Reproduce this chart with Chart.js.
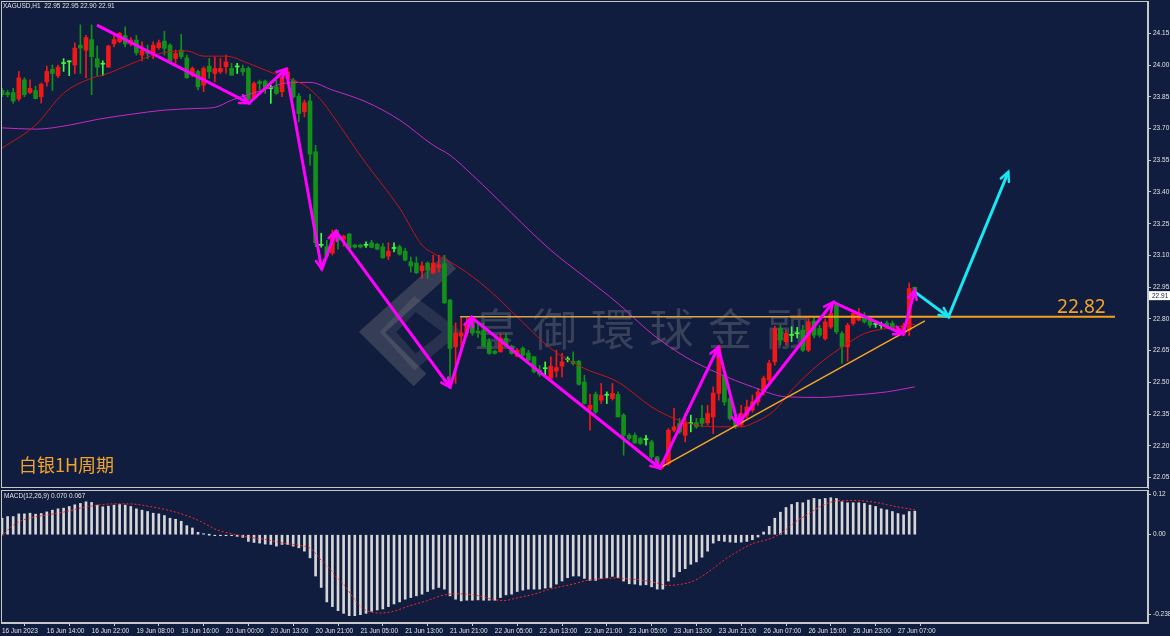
<!DOCTYPE html>
<html>
<head>
<meta charset="utf-8">
<title>XAGUSD H1</title>
<script src="https://cdn.jsdelivr.net/npm/chart.js@4.4.0/dist/chart.umd.min.js"></script>
<style>
    html, body { margin: 0; padding: 0; background: #111d3f; overflow: hidden; }
    #wrap { position: relative; width: 1170px; height: 636px; }
    #chart-price { position: absolute; left: 0; top: 0; }
    #chart-macd { position: absolute; left: 0; top: 489px; }
</style>
</head>
<body>
<div id="wrap">
    <canvas id="chart-price" width="1170" height="489"></canvas>
    <canvas id="chart-macd" width="1170" height="147"></canvas>
</div>
<script>
// XAGUSD H1 data
// -----------------------------------

var opens = [23.88,23.87,23.87,23.84,23.93,23.87,23.88,23.85,23.92,23.98,
    23.95,24.008,24.015,24.00,24.094,24.07,24.12,24.03,24.005,23.99,
    24.10,24.11,24.14,24.10,24.118,24.047,24.07,24.058,24.082,24.113,
    24.094,24.031,24.071,24.034,23.952,23.97,23.905,23.995,23.96,23.968,
    23.992,23.984,23.992,23.984,23.984,23.842,23.921,23.924,23.89,23.897,
    23.874,23.937,23.929,23.853,23.779,23.83,23.59,23.149,23.141,23.111,
    23.191,23.177,23.201,23.149,23.149,23.149,23.16,23.153,23.141,23.097,
    23.134,23.141,23.12,23.07,23.064,23.027,23.064,23.018,23.044,23.062,
    22.889,22.668,22.718,22.734,22.804,22.742,22.747,22.691,22.648,22.644,
    22.709,22.671,22.624,22.662,22.639,22.621,22.558,22.566,22.52,22.554,
    22.577,22.608,22.6,22.6,22.502,22.372,22.444,22.416,22.44,22.424,
    22.443,22.345,22.25,22.25,22.235,22.23,22.219,22.148,22.104,22.116,
    22.274,22.306,22.25,22.306,22.309,22.33,22.309,22.337,22.448,22.534,
    22.424,22.33,22.298,22.345,22.369,22.408,22.455,22.51,22.597,22.755,
    22.692,22.723,22.73,22.747,22.652,22.79,22.755,22.707,22.762,22.865,
    22.731,22.668,22.779,22.794,22.81,22.794,22.775,22.77,22.78,22.779,
    22.739,22.731,22.747,22.95];

var highs = [23.89,23.88,23.89,23.97,23.94,23.93,23.90,23.915,23.995,24.00,
    24.00,24.03,24.02,24.105,24.19,24.14,24.19,24.09,24.02,24.094,
    24.14,24.155,24.18,24.13,24.14,24.11,24.094,24.11,24.118,24.16,
    24.10,24.071,24.145,24.047,23.992,23.976,23.992,24.031,24.039,24.031,
    24.047,24.008,24.008,24.0,23.992,23.921,23.929,23.929,23.905,23.929,
    23.952,23.985,23.937,23.866,23.834,23.862,23.621,23.205,23.172,23.22,
    23.22,23.196,23.205,23.153,23.153,23.164,23.172,23.157,23.157,23.16,
    23.16,23.149,23.133,23.093,23.093,23.07,23.07,23.101,23.101,23.101,
    22.893,22.781,22.81,22.81,22.81,22.786,22.781,22.707,22.652,22.731,
    22.731,22.676,22.66,22.668,22.652,22.624,22.581,22.597,22.621,22.652,
    22.637,22.621,22.644,22.605,22.534,22.444,22.455,22.495,22.455,22.495,
    22.455,22.353,22.258,22.261,22.24,22.25,22.227,22.151,22.132,22.282,
    22.377,22.33,22.353,22.345,22.33,22.392,22.392,22.479,22.676,22.558,
    22.44,22.34,22.392,22.416,22.44,22.472,22.53,22.605,22.766,22.77,
    22.747,22.763,22.76,22.77,22.802,22.81,22.77,22.80,22.84,22.874,
    22.74,22.78,22.84,22.85,22.83,22.80,22.79,22.785,22.79,22.79,
    22.765,22.78,22.97,22.95];

var lows = [23.85,23.85,23.82,23.83,23.85,23.865,23.84,23.82,23.90,23.88,
    23.94,23.97,23.95,23.96,23.96,23.94,23.86,23.95,23.95,23.99,
    24.086,24.105,24.086,24.09,24.047,24.02,24.03,24.03,24.074,24.047,
    24.008,24.008,24.03,23.937,23.944,23.882,23.874,23.937,23.921,23.96,
    23.96,23.952,23.96,23.952,23.834,23.838,23.882,23.866,23.819,23.861,
    23.85,23.929,23.842,23.732,23.755,23.527,23.141,23.139,23.093,23.102,
    23.13,23.144,23.134,23.135,23.135,23.138,23.137,23.127,23.086,23.081,
    23.117,23.101,23.074,23.022,23.015,22.991,22.991,23.015,23.022,22.873,
    22.496,22.496,22.652,22.715,22.723,22.712,22.668,22.633,22.634,22.644,
    22.671,22.633,22.621,22.624,22.602,22.545,22.529,22.529,22.51,22.526,
    22.526,22.597,22.582,22.487,22.397,22.274,22.353,22.4,22.4,22.416,
    22.337,22.156,22.227,22.211,22.207,22.203,22.14,22.1,22.094,22.108,
    22.266,22.258,22.219,22.266,22.283,22.29,22.298,22.258,22.416,22.392,
    22.321,22.282,22.29,22.33,22.36,22.392,22.44,22.496,22.581,22.676,
    22.676,22.692,22.71,22.645,22.645,22.71,22.715,22.70,22.755,22.73,
    22.59,22.60,22.77,22.79,22.78,22.76,22.76,22.755,22.755,22.745,
    22.73,22.72,22.72,22.90];

var closes = [23.86,23.86,23.83,23.94,23.86,23.89,23.842,23.91,23.97,23.96,
    23.99,24.007,24.017,24.08,24.08,24.13,24.04,23.99,24.004,24.09,
    24.12,24.15,24.10,24.118,24.058,24.071,24.055,24.094,24.105,24.079,
    24.018,24.055,24.04,23.94,23.984,23.897,23.984,23.968,23.984,23.984,
    24.015,23.952,23.991,23.968,23.838,23.913,23.913,23.894,23.889,23.866,
    23.942,23.968,23.85,23.771,23.822,23.579,23.16,23.148,23.097,23.201,
    23.172,23.191,23.134,23.139,23.14,23.148,23.138,23.13,23.089,23.12,
    23.133,23.106,23.078,23.05,23.018,23.051,23.03,23.064,23.056,22.876,
    22.66,22.733,22.734,22.78,22.733,22.734,22.671,22.637,22.637,22.709,
    22.676,22.637,22.652,22.629,22.605,22.55,22.539,22.565,22.577,22.57,
    22.597,22.609,22.589,22.491,22.4,22.392,22.36,22.439,22.439,22.448,
    22.337,22.25,22.235,22.214,22.211,22.229,22.148,22.108,22.124,22.274,
    22.29,22.266,22.313,22.305,22.29,22.306,22.353,22.45,22.668,22.408,
    22.329,22.29,22.353,22.384,22.408,22.455,22.52,22.591,22.755,22.699,
    22.731,22.722,22.731,22.652,22.786,22.723,22.723,22.786,22.826,22.739,
    22.668,22.77,22.826,22.826,22.786,22.77,22.774,22.769,22.762,22.755,
    22.755,22.77,22.944,22.91];

// moving averages: [bar, price]
var fastMa = [[0,23.607],[6,23.716],[11,23.867],[16,23.938],[18,23.952],[24,24.016],[27,24.047],
    [30,24.063],[33,24.067],[36,24.042],[40,24.042],[44,24.008],[47,23.976],[51,23.937],[54,23.905],
    [57,23.834],[59,23.763],[65,23.535],[71,23.324],[75,23.149],[77,23.111],[80,23.07],[84,23.0],
    [87,22.936],[92,22.81],[98,22.66],[104,22.566],[110,22.502],[116,22.384],[120,22.33],[124,22.298],
    [128,22.29],[132,22.29],[134,22.306],[138,22.369],[141,22.463],[146,22.589],[151,22.684],
    [154,22.731],[158,22.755],[163,22.775]];

var slowMa = [[0,23.703],[6,23.697],[12,23.716],[17,23.743],[23,23.767],[29,23.787],[35,23.795],
    [38,23.8],[41,23.834],[47,23.885],[51,23.916],[55,23.918],[59,23.882],[65,23.826],[71,23.74],
    [77,23.621],[80,23.574],[84,23.48],[98,23.125],[104,22.999],[110,22.873],[116,22.731],
    [122,22.621],[128,22.542],[134,22.479],[140,22.432],[146,22.429],[152,22.44],[158,22.455],
    [163,22.479]];

var macdValues = [0.049,0.054,0.054,0.062,0.062,0.064,0.061,0.063,0.068,0.073,
    0.077,0.079,0.084,0.089,0.093,0.098,0.096,0.088,0.083,0.085,
    0.088,0.090,0.088,0.084,0.077,0.073,0.069,0.064,0.062,0.057,
    0.049,0.046,0.040,0.027,0.020,0.007,0.002,0.000,-0.002,-0.003,
    -0.001,-0.003,-0.005,-0.008,-0.020,-0.023,-0.025,-0.028,-0.029,-0.034,
    -0.029,-0.029,-0.034,-0.039,-0.049,-0.069,-0.123,-0.157,-0.200,-0.214,
    -0.226,-0.234,-0.241,-0.241,-0.238,-0.234,-0.228,-0.224,-0.221,-0.214,
    -0.206,-0.200,-0.192,-0.187,-0.182,-0.177,-0.169,-0.162,-0.157,-0.162,
    -0.182,-0.192,-0.197,-0.195,-0.195,-0.194,-0.195,-0.195,-0.195,-0.187,
    -0.179,-0.177,-0.169,-0.165,-0.162,-0.162,-0.162,-0.159,-0.157,-0.147,
    -0.138,-0.128,-0.123,-0.123,-0.130,-0.136,-0.136,-0.130,-0.128,-0.124,
    -0.128,-0.138,-0.146,-0.147,-0.150,-0.149,-0.155,-0.162,-0.162,-0.138,
    -0.126,-0.110,-0.101,-0.088,-0.081,-0.067,-0.049,-0.025,-0.018,-0.020,
    -0.022,-0.023,-0.022,-0.020,-0.015,-0.007,0.008,0.025,0.049,0.067,
    0.081,0.090,0.096,0.095,0.103,0.108,0.105,0.108,0.110,0.108,
    0.098,0.095,0.095,0.095,0.093,0.088,0.084,0.077,0.074,0.069,
    0.063,0.059,0.069,0.070];

var macdSignal = [[0,-0.005],[1.4,0.020],[3.2,0.040],[5.6,0.052],[8.6,0.060],[11.5,0.069],[14.5,0.081],
    [17.5,0.089],[20.5,0.092],[23.5,0.091],[26.4,0.084],[29.4,0.074],[32.4,0.060],[35.4,0.040],
    [38.3,0.015],[41.3,0.002],[44.3,-0.008],[47.3,-0.015],[50.2,-0.025],[53.2,-0.032],[55,-0.040],
    [56.2,-0.060],[57.4,-0.084],[58.6,-0.103],[59.8,-0.128],[61,-0.147],[62.7,-0.187],[63.9,-0.211],
    [65.1,-0.226],[67.5,-0.233],[69.9,-0.228],[72.9,-0.211],[75.8,-0.197],[78.8,-0.180],[81.8,-0.176],
    [84.9,-0.181],[87.8,-0.193],[89.6,-0.196],[92,-0.188],[95,-0.177],[97.4,-0.164],[99.7,-0.155],
    [102,-0.147],[104.5,-0.136],[106.9,-0.131],[109.9,-0.129],[111.6,-0.131],[114.6,-0.136],
    [117,-0.144],[118.8,-0.151],[120.6,-0.149],[123,-0.141],[124.7,-0.127],[127.1,-0.099],
    [129.5,-0.069],[131.9,-0.045],[134.3,-0.025],[136.6,-0.015],[138.1,-0.005],[139.6,0.010],
    [141.4,0.035],[143.8,0.060],[146.2,0.084],[148,0.097],[150.3,0.102],[153.3,0.101],[155.7,0.097],
    [158.1,0.089],[160.5,0.081],[163,0.074]];

var priceTicks = [22.05,22.20,22.35,22.50,22.65,22.80,22.95,23.10,23.25,23.40,23.55,23.70,23.85,24.00,24.15];
var macdTicks = [-0.238, 0, 0.12];
var macdTickLabels = ['-0.238', '0.00', '0.12'];
var timeTicks = [0,8,16,24,32,40,48,56,64,72,80,88,96,104,112,120,128,136,144,152,160];
var timeLabels = ['16 Jun 2023','16 Jun 14:00','16 Jun 22:00','19 Jun 08:00','19 Jun 16:00',
    '20 Jun 00:00','20 Jun 13:00','20 Jun 21:00','21 Jun 05:00','21 Jun 13:00','21 Jun 21:00',
    '22 Jun 05:00','22 Jun 13:00','22 Jun 21:00','23 Jun 05:00','23 Jun 13:00','23 Jun 21:00',
    '26 Jun 07:00','26 Jun 15:00','26 Jun 23:00','27 Jun 07:00'];

// drawn analysis: [bar, price]
var waveLine = [[16.96,24.189],[44.1,23.82],[50.7,23.981],[57.1,23.035],[59.6,23.215],[80.0,22.477],
    [83.8,22.808],[117.5,22.094],[127.9,22.666],[131.4,22.302],[148.4,22.879],[160.9,22.728],[163.0,22.936]];
var forecastLine = [[163.0,22.928],[169.0,22.81],[179.7,23.495]];
var levelPrice = 22.81;
var levelText = '22.82';
var levelFrom = [81.8, 140.7];
var levelTo = [140.7, 198.75];
var supportLine = [[117.8,22.101],[164.8,22.791]];
var lastPrice = 22.91;

// Chart JS
// -----------------------------------

(function(window, document, undefined) {
    'use strict';

    var BG = '#111d3f';
    var AXIS = '#c8c8c8';
    var TEXT = '#e2e2e2';
    var FONT = '"Liberation Sans", Arial, sans-serif';
    var UP = '#f21818';
    var DOWN = '#12901a';
    var DOJI = '#3cff3c';
    var X_MIN = -0.18;
    var X_MAX = X_MIN + 1147 / 5.6;

    function pts(list) {
        return list.map(function(p) { return { x: p[0], y: p[1] }; });
    }

    function candleColor(i) {
        var d = closes[i] - opens[i];
        if (Math.abs(d) < 0.003) return DOJI;
        return d > 0 ? UP : DOWN;
    }

    function arrowHead(ctx, a, b, len) {
        var ang = Math.atan2(b.y - a.y, b.x - a.x);
        ctx.beginPath();
        ctx.moveTo(b.x - len * Math.cos(ang - 0.45), b.y - len * Math.sin(ang - 0.45));
        ctx.lineTo(b.x, b.y);
        ctx.lineTo(b.x - len * Math.cos(ang + 0.45), b.y - len * Math.sin(ang + 0.45));
        ctx.stroke();
    }

    function panelBorder(chart) {
        var a = chart.chartArea, ctx = chart.ctx;
        ctx.save();
        ctx.strokeStyle = AXIS;
        ctx.lineWidth = 1;
        ctx.strokeRect(a.left + 0.5, a.top + 0.5, a.right - a.left - 1, a.bottom - a.top - 1);
        ctx.restore();
    }

    var pricePlugin = {
        id: 'priceDecor',
        beforeDatasetsDraw: function(chart) {
            var ctx = chart.ctx;
            ctx.save();
            // watermark logo
            ctx.lineJoin = 'miter';
            ctx.strokeStyle = 'rgba(150,150,150,0.28)';
            ctx.lineWidth = 18;
            ctx.beginPath();
            ctx.moveTo(450, 262);
            ctx.lineTo(372, 332);
            ctx.lineTo(420, 380);
            ctx.stroke();
            ctx.strokeStyle = 'rgba(150,150,150,0.18)';
            ctx.lineWidth = 12;
            ctx.beginPath();
            ctx.moveTo(415, 304);
            ctx.lineTo(452, 332);
            ctx.lineTo(415, 362);
            ctx.lineTo(388, 332);
            ctx.closePath();
            ctx.stroke();
            // watermark text
            ctx.fillStyle = 'rgba(150,150,150,0.3)';
            ctx.font = '44px "Noto Sans CJK TC", "Noto Sans CJK SC", sans-serif';
            ctx.textAlign = 'center';
            ctx.textBaseline = 'middle';
            var chars = '皇御環球金融'.split('');
            chars.forEach(function(c, k) { ctx.fillText(c, 496 + k * 58.5, 329); });
            ctx.restore();
        },
        afterDatasetsDraw: function(chart) {
            var ctx = chart.ctx;
            ctx.save();
            ctx.lineWidth = 2.5;
            ctx.lineCap = 'round';
            chart.data.datasets.forEach(function(ds, k) {
                if (!ds.arrowHeads) return;
                var els = chart.getDatasetMeta(k).data;
                ctx.strokeStyle = ds.borderColor;
                for (var i = 1; i < els.length; i++) arrowHead(ctx, els[i - 1], els[i], 10);
            });
            ctx.restore();
        },
        afterDraw: function(chart) {
            var ctx = chart.ctx, x = chart.scales.x, y = chart.scales.y;
            panelBorder(chart);
            ctx.save();
            ctx.textBaseline = 'middle';
            ctx.fillStyle = TEXT;
            ctx.font = '6.5px ' + FONT;
            ctx.fillText('XAGUSD,H1  22.95 22.95 22.90 22.91', 3, 6);

            // last price box
            var py = y.getPixelForValue(lastPrice);
            ctx.fillStyle = '#ffffff';
            ctx.fillRect(1149, py - 4.5, 21, 9);
            ctx.fillStyle = BG;
            ctx.fillText(lastPrice.toFixed(2), 1152, py + 0.5);

            ctx.textBaseline = 'alphabetic';
            ctx.fillStyle = '#f2a42a';
            ctx.font = '19px "Noto Sans", sans-serif';
            ctx.fillText(levelText, x.getPixelForValue(188.4), y.getPixelForValue(levelPrice) - 4);
            ctx.font = '18px "Noto Sans CJK SC", sans-serif';
            ctx.fillText('白银1H周期', 19, 472);
            ctx.restore();
        }
    };

    var macdPlugin = {
        id: 'macdDecor',
        afterDraw: function(chart) {
            var ctx = chart.ctx;
            panelBorder(chart);
            ctx.save();
            ctx.fillStyle = TEXT;
            ctx.font = '6.5px ' + FONT;
            ctx.textBaseline = 'middle';
            ctx.fillText('MACD(12,26,9) 0.070 0.067', 4, 7);
            ctx.restore();
        }
    };

    // Price chart
    // -----------------------------------

    var idx = opens.map(function(v, i) { return i; });

    var priceData = {
        datasets: [{
            type: 'line',
            data: pts(waveLine),
            borderColor: '#ff00ff',
            borderWidth: 3,
            pointRadius: 0,
            borderJoinStyle: 'round',
            arrowHeads: true,
            order: 0
        }, {
            type: 'line',
            data: pts(forecastLine),
            borderColor: '#19e6f2',
            borderWidth: 3,
            pointRadius: 0,
            arrowHeads: true,
            order: 0
        }, {
            type: 'line',
            data: [{ x: levelFrom[0], y: levelPrice }, { x: levelTo[0], y: levelPrice }],
            borderColor: '#d8a64a',
            borderWidth: 1.5,
            pointRadius: 0,
            order: 1
        }, {
            type: 'line',
            data: [{ x: levelFrom[1], y: levelPrice }, { x: levelTo[1], y: levelPrice }],
            borderColor: '#f2a11c',
            borderWidth: 2,
            pointRadius: 0,
            order: 1
        }, {
            type: 'line',
            data: pts(supportLine),
            borderColor: '#f6a623',
            borderWidth: 1.5,
            pointRadius: 0,
            order: 1
        }, {
            type: 'line',
            data: pts(fastMa),
            borderColor: '#c41616',
            borderWidth: 1,
            pointRadius: 0,
            cubicInterpolationMode: 'monotone',
            order: 2
        }, {
            type: 'line',
            data: pts(slowMa),
            borderColor: '#c42ac4',
            borderWidth: 1,
            pointRadius: 0,
            cubicInterpolationMode: 'monotone',
            order: 2
        }, {
            type: 'bar',
            data: idx.map(function(i) { return { x: i, y: [opens[i], closes[i]] }; }),
            backgroundColor: function(c) { return candleColor(c.dataIndex); },
            barThickness: 4,
            minBarLength: 1,
            grouped: false,
            order: 3
        }, {
            type: 'bar',
            data: idx.map(function(i) { return { x: i, y: [lows[i], highs[i]] }; }),
            backgroundColor: function(c) { return candleColor(c.dataIndex); },
            barThickness: 1,
            grouped: false,
            order: 4
        }]
    };

    var priceOptions = {
        responsive: false,
        animation: false,
        events: [],
        layout: { padding: { left: 1, top: 1, right: 0, bottom: 1 } },
        plugins: { legend: { display: false }, tooltip: { enabled: false } },
        scales: {
            x: { type: 'linear', min: X_MIN, max: X_MAX, offset: false, display: false },
            y: {
                type: 'linear',
                position: 'right',
                min: 22.05 - 10.4 / 211.5,
                max: 24.15 + 32.3 / 211.5,
                afterBuildTicks: function(s) { s.ticks = priceTicks.map(function(v) { return { value: v }; }); },
                afterFit: function(s) { s.width = 22; s.paddingTop = 0; s.paddingBottom = 0; },
                ticks: {
                    autoSkip: false,
                    padding: 2,
                    color: TEXT,
                    font: { family: FONT, size: 6.5 },
                    callback: function(v) { return Number(v).toFixed(2); }
                },
                grid: { drawOnChartArea: false, drawTicks: true, tickLength: 3, color: AXIS },
                border: { display: true, color: AXIS }
            }
        }
    };

    new Chart(document.getElementById('chart-price').getContext('2d'), {
        type: 'bar',
        data: priceData,
        options: priceOptions,
        plugins: [pricePlugin]
    });

    // MACD chart
    // -----------------------------------

    var macdData = {
        datasets: [{
            type: 'line',
            data: pts(macdSignal),
            borderColor: '#ff2424',
            borderWidth: 1,
            borderDash: [2, 2],
            pointRadius: 0,
            cubicInterpolationMode: 'monotone',
            order: 0
        }, {
            type: 'bar',
            data: macdValues.map(function(v, i) { return { x: i, y: v }; }),
            backgroundColor: '#d6d6d6',
            barThickness: 2,
            minBarLength: 1,
            order: 1
        }]
    };

    var macdOptions = {
        responsive: false,
        animation: false,
        events: [],
        layout: { padding: { left: 1, top: 1, right: 0, bottom: 0 } },
        plugins: { legend: { display: false }, tooltip: { enabled: false } },
        scales: {
            x: {
                type: 'linear',
                position: 'bottom',
                min: X_MIN,
                max: X_MAX,
                offset: false,
                afterBuildTicks: function(s) { s.ticks = timeTicks.map(function(v) { return { value: v }; }); },
                afterFit: function(s) { s.height = 13; s.paddingLeft = 0; s.paddingRight = 0; },
                ticks: {
                    autoSkip: false,
                    align: 'start',
                    maxRotation: 0,
                    minRotation: 0,
                    padding: 1,
                    color: TEXT,
                    font: { family: FONT, size: 6.5 },
                    callback: function(v, i) { return timeLabels[i]; }
                },
                grid: { drawOnChartArea: false, drawTicks: true, tickLength: 3, color: AXIS },
                border: { display: true, color: AXIS }
            },
            y: {
                type: 'linear',
                position: 'right',
                min: -88.3 / 336,
                max: 44.7 / 336,
                afterBuildTicks: function(s) { s.ticks = macdTicks.map(function(v) { return { value: v }; }); },
                afterFit: function(s) { s.width = 22; s.paddingTop = 0; s.paddingBottom = 0; },
                ticks: {
                    autoSkip: false,
                    padding: 2,
                    color: TEXT,
                    font: { family: FONT, size: 6.5 },
                    callback: function(v, i) { return macdTickLabels[i]; }
                },
                grid: { drawOnChartArea: false, drawTicks: true, tickLength: 3, color: AXIS },
                border: { display: true, color: AXIS }
            }
        }
    };

    new Chart(document.getElementById('chart-macd').getContext('2d'), {
        type: 'bar',
        data: macdData,
        options: macdOptions,
        plugins: [macdPlugin]
    });

})(window, document);
</script>
</body>
</html>
